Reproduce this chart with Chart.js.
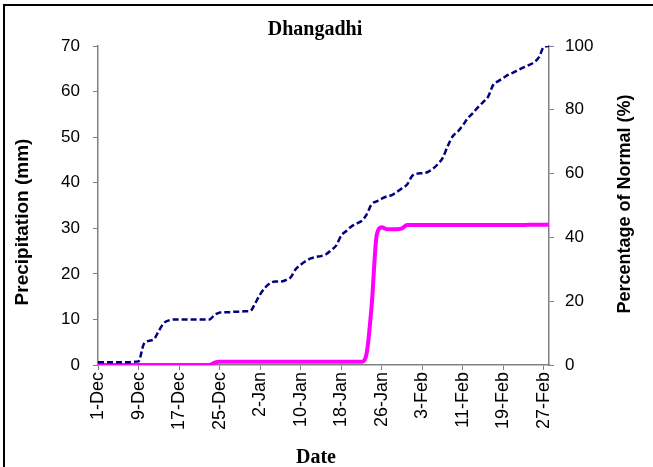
<!DOCTYPE html>
<html lang="en">
<head>
    <meta charset="UTF-8">
    <title>Dhangadhi</title>
    <script src="https://cdn.jsdelivr.net/npm/chart.js"></script>
    <style>
        body { margin: 0; background: #fff; overflow: hidden; }
        canvas { display: block; }
    </style>
</head>
<body>
    <canvas id="rainChart" width="653" height="467"></canvas>

    <script>
        // Mesi e giorni (1 Dic - 28 Feb)
        const months = ['Dec', 'Jan', 'Feb'];
        const monthDays = [31, 31, 28];

        // Precipitazione cumulata normale (mm), linea tratteggiata
        const normalCum = [
            0.6, 0.6, 0.6, 0.6, 0.6, 0.6, 0.6, 0.7, 0.8, 4.5,
            5.3, 5.6, 7.5, 9.2, 9.8, 10.0, 10.0, 10.0, 10.0, 10.0,
            10.0, 10.0, 10.0, 11.0, 11.5, 11.6, 11.6, 11.7, 11.7, 11.8,
            11.8, 13.5, 15.5, 17.0, 18.0, 18.3, 18.3, 18.6, 19.2, 21.0,
            22.0, 22.8, 23.4, 23.7, 23.9, 24.3, 25.2, 26.2, 28.4, 29.4,
            30.4, 31.0, 31.6, 33.0, 35.3, 35.9, 36.5, 37.0, 37.3, 38.0,
            38.8, 39.6, 41.5, 42.0, 42.1, 42.3, 43.0, 44.0, 45.4, 48.0,
            50.2, 51.2, 52.6, 54.2, 55.3, 56.6, 57.7, 58.9, 61.5, 62.3,
            63.0, 63.7, 64.2, 64.8, 65.3, 65.8, 66.4, 67.5, 69.8, 70.0
        ];

        // Precipitazione cumulata osservata (mm), linea magenta
        const actualCum = [
            0, 0, 0, 0, 0, 0, 0, 0, 0, 0,
            0, 0, 0, 0, 0, 0, 0, 0, 0, 0,
            0, 0, 0, 0.5, 0.7, 0.7, 0.7, 0.7, 0.7, 0.7,
            0.7, 0.7, 0.7, 0.7, 0.7, 0.7, 0.7, 0.7, 0.7, 0.7,
            0.7, 0.7, 0.7, 0.7, 0.7, 0.7, 0.7, 0.7, 0.7, 0.7,
            0.7, 0.7, 0.7, 2.5, 13.0, 28.5, 30.2, 29.8, 29.8, 29.8,
            30.0, 30.7, 30.7, 30.7, 30.7, 30.7, 30.7, 30.7, 30.7, 30.7,
            30.7, 30.7, 30.7, 30.7, 30.7, 30.7, 30.7, 30.7, 30.7, 30.7,
            30.7, 30.7, 30.7, 30.7, 30.7, 30.8, 30.8, 30.8, 30.8, 30.8
        ];

        // Etichette delle date
        let labels = [];
        months.forEach((m, i) => {
            for (let d = 1; d <= monthDays[i]; d++) labels.push(d + '-' + m);
        });

        const axisGray = '#808080';
        const sans = 'Arial, "Liberation Sans", sans-serif';

        // Cornice, titoli
        const frame = {
            id: 'frame',
            afterDraw(chart) {
                const ctx = chart.ctx;
                ctx.save();
                ctx.strokeStyle = '#000';
                ctx.lineWidth = 2;
                ctx.strokeRect(4, 5, 700, 500);
                ctx.fillStyle = '#000';
                ctx.textAlign = 'center';
                ctx.textBaseline = 'middle';
                ctx.font = 'bold 20px "Liberation Serif", "Times New Roman", serif';
                ctx.fillText('Dhangadhi', 315, 30);
                ctx.fillText('Date', 316, 458);

                // titoli degli assi verticali, letti dal basso verso l'alto
                ctx.font = 'bold 19px ' + sans;
                ctx.save();
                ctx.translate(23, 222);
                ctx.rotate(-Math.PI / 2);
                ctx.fillText('Precipitation (mm)', 0, 0);
                ctx.restore();

                ctx.font = 'bold 18px ' + sans;
                ctx.save();
                ctx.translate(625, 204);
                ctx.rotate(-Math.PI / 2);
                ctx.fillText('Percentage of Normal (%)', 0, 0);
                ctx.restore();
                ctx.restore();
            }
        };

        new Chart(document.getElementById('rainChart'), {
            type: 'line',
            data: {
                labels: labels,
                datasets: [
                    {
                        label: 'Normal',
                        data: normalCum,
                        borderColor: '#000080',
                        borderWidth: 2.5,
                        borderDash: [6, 3],
                        pointRadius: 0,
                        cubicInterpolationMode: 'monotone',
                        fill: false,
                        yAxisID: 'y'
                    },
                    {
                        label: 'Actual',
                        data: actualCum,
                        borderColor: '#FF00FF',
                        borderWidth: 4,
                        pointRadius: 0,
                        cubicInterpolationMode: 'monotone',
                        fill: false,
                        yAxisID: 'y'
                    }
                ]
            },
            options: {
                responsive: false,
                animation: false,
                layout: { padding: { top: 46, left: 0, right: 0, bottom: 0 } },
                plugins: { legend: { display: false }, title: { display: false }, tooltip: { enabled: false } },
                scales: {
                    x: {
                        offset: false,
                        border: { color: axisGray, width: 1.5 },
                        grid: {
                            drawOnChartArea: false,
                            tickLength: 5,
                            tickColor: c => (c.index % 8 === 0 ? axisGray : 'rgba(0,0,0,0)')
                        },
                        ticks: {
                            autoSkip: false,
                            minRotation: 90,
                            maxRotation: 90,
                            padding: 2,
                            color: '#000',
                            font: { family: sans, size: 18 },
                            callback: function (v, i) { return i % 8 === 0 ? labels[i] : ''; }
                        },
                        afterFit: s => { s.height = 102; }
                    },
                    y: {
                        position: 'left',
                        min: 0,
                        max: 70,
                        border: { color: axisGray, width: 1.5 },
                        grid: { drawOnChartArea: false, tickLength: 5, tickColor: axisGray },
                        ticks: {
                            stepSize: 10,
                            padding: 13,
                            color: '#000',
                            font: { family: sans, size: 17 }
                        },
                        afterFit: s => { s.width = 98; }
                    },
                    y2: {
                        position: 'right',
                        min: 0,
                        max: 100,
                        border: { color: axisGray, width: 1.5 },
                        grid: { drawOnChartArea: false, tickLength: 5, tickColor: axisGray },
                        ticks: {
                            stepSize: 20,
                            padding: 11,
                            color: '#000',
                            font: { family: sans, size: 17 }
                        },
                        afterFit: s => { s.width = 104; }
                    }
                }
            },
            plugins: [frame]
        });
    </script>
</body>
</html>
